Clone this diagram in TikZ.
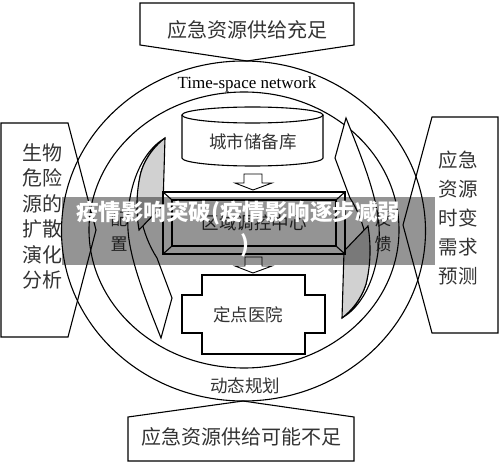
\documentclass[tikz,border=0pt]{standalone}
\usepackage{fontspec}
\setmainfont{Liberation Serif}
\newfontfamily\cjk{Noto Sans CJK SC}
\usetikzlibrary{shapes.geometric}
\tikzstyle{frame}=[draw, line width=1.1pt, line join=miter]
\tikzstyle{ring}=[draw, line width=1.1pt]
\tikzstyle{hanzi}=[font=\cjk\fontsize{17.5}{20}\selectfont, text=black!80, inner sep=0pt]
\tikzstyle{bighanzi}=[font=\cjk\fontsize{20}{25.5}\selectfont, text=black!80, inner sep=0pt, align=center]
\tikzstyle{sweeparrow}=[frame, fill=white]
\tikzstyle{sweepface}=[frame, fill=black!18]
\tikzstyle{blockarrow}=[frame, fill=white, line width=0.9pt]
\tikzstyle{caption}=[font=\cjk\bfseries\fontsize{22.5}{26}\selectfont, text=white, inner sep=0pt]

\begin{document}
\begin{tikzpicture}[x=1pt, y=-1pt]
        \useasboundingbox (0,0) rectangle (500,462);
        % rings
        \draw[ring] (243.5,231) ellipse [x radius=182pt, y radius=170pt];
        \draw[ring] (244,230) ellipse [x radius=155pt, y radius=138pt];
        % outer boxes
        \draw[frame] (140,3) -- (354,3) -- (354,45) -- (247,61) -- (140,45) -- cycle;
        \draw[frame] (128,461) -- (354,461) -- (354,417) -- (243,401) -- (128,417) -- cycle;
        \draw[frame] (1,123) -- (68,123) -- (96,230) -- (68,337) -- (1,337) -- cycle;
        \draw[frame] (498,117) -- (432,117) -- (403,225) -- (432,333) -- (498,333) -- cycle;
        \node[bighanzi] (supplyok) at (247,30) {应急资源供给充足};
        \node[bighanzi] (supplylow) at (241,437) {应急资源供给可能不足};
        \node[bighanzi] (hazard) at (42,216.5) {生物\\危险\\源的\\扩散\\演化\\分析};
        \node[bighanzi, font=\cjk\fontsize{19.5}{29}\selectfont] (demand) at (458,218.5) {应急\\资源\\时变\\需求\\预测};
        \node[font=\fontsize{17}{20}\selectfont, inner sep=0pt] (network) at (247,84) {Time-space network};
        \node[hanzi] (planning) at (245,386) {动态规划};
        % curved arrows
        \draw[sweeparrow] (165,138) .. controls (138,154) and (126,195) .. (128,230)
            .. controls (130,262) and (148,305) .. (161,338) -- (172,298) -- (157,258)
            .. controls (142,235) and (134,200) .. (141,172)
            .. controls (146,156) and (156,145) .. cycle;
        \draw[sweepface] (165,138) .. controls (156,145) and (146,156) .. (141,172)
            .. controls (136,192) and (136,212) .. (139,230) -- (163,205) -- cycle;
        \draw[sweeparrow] (342,318) .. controls (369,302) and (381,261) .. (379,226)
            .. controls (377,194) and (359,151) .. (346,118) -- (335,158) -- (350,198)
            .. controls (365,221) and (373,256) .. (366,284)
            .. controls (361,300) and (351,311) .. cycle;
        \draw[sweepface] (342,318) .. controls (351,311) and (361,300) .. (366,284)
            .. controls (371,264) and (371,244) .. (368,226) -- (344,251) -- cycle;
        \node[hanzi, align=center, font=\cjk\fontsize{17}{25}\selectfont] (allot) at (119,232) {配\\置};
        \node[hanzi, align=center, font=\cjk\fontsize{17}{25}\selectfont] (feedback) at (383,232) {反\\馈};
        % depot
        \draw[frame, fill=white] (182,115) -- (182,158)
            arc [start angle=180, end angle=360, x radius=70.5pt, y radius=8pt] -- (323,115);
        \draw[frame, fill=white] (252.5,115) ellipse [x radius=70.5pt, y radius=8pt];
        \node[hanzi] (depot) at (253,142) {城市储备库};
        \draw[blockarrow] (244,174) -- (262,174) -- (262,183) -- (272,183) -- (253,190)
            -- (235,183) -- (244,183) -- cycle;
        % hub
        \draw[frame, fill=white] (163,192) rectangle (345,254);
        \draw[frame] (172,200) rectangle (336,246);
        \draw[frame] (163,192) -- (172,200);
        \draw[frame] (345,192) -- (336,200);
        \draw[frame] (163,254) -- (172,246);
        \draw[frame] (345,254) -- (336,246);
        \node[hanzi] (hub) at (254,223) {区域调控中心};
        \draw[blockarrow] (245,257) -- (262,257) -- (262,266) -- (272,266) -- (253,273)
            -- (235,266) -- (245,266) -- cycle;
        % hospital
        \draw[frame] (202,275) -- (305,275) -- (305,295) -- (325,295) -- (325,333) -- (305,333)
            -- (305,354) -- (202,354) -- (202,333) -- (182,333) -- (182,295) -- (202,295) -- cycle;
        \node[hanzi] (hospital) at (248,315) {定点医院};
        % banner
        \fill[black, fill opacity=0.42] (62,197) rectangle (435,265);
        \node[caption] (banner) at (238,213) {疫情影响突破(疫情影响逐步减弱};
        \node[caption] (bannerend) at (245,245) {)};
    \end{tikzpicture}
\end{document}
